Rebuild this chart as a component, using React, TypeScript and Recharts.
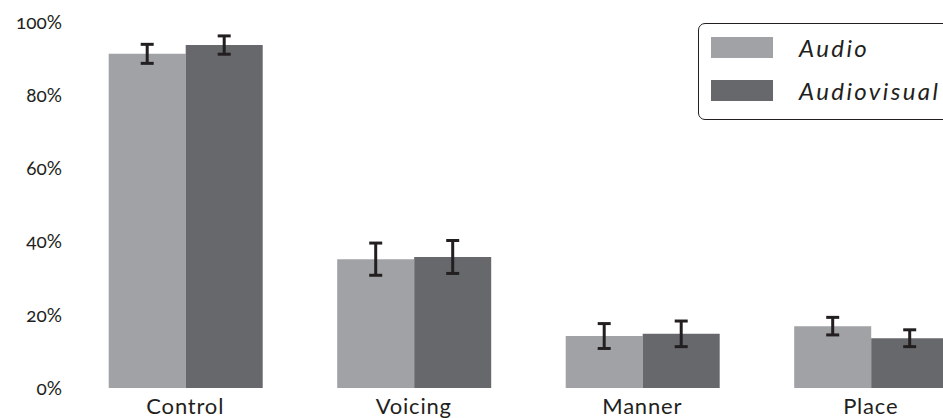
import { BarChart, Bar, XAxis, YAxis, ErrorBar, Legend } from "recharts";

// phoneme categories and identification rates (%)
const categories = ["Control", "Voicing", "Manner", "Place"];
const audioValues = [91.3, 35.2, 14.2, 16.9];
const audioErrors = [2.6, 4.4, 3.4, 2.4];
const audiovisualValues = [93.7, 35.8, 14.8, 13.6];
const audiovisualErrors = [2.5, 4.5, 3.5, 2.3];
const yTicks = [0, 20, 40, 60, 80, 100];

const AUDIO_COLOR = "#a1a2a6";
const AV_COLOR = "#67686c";
const INK = "#231f20";

const chartData = categories.map((name, i) => ({
  name,
  audio: audioValues[i],
  audioErr: audioErrors[i],
  audiovisual: audiovisualValues[i],
  audiovisualErr: audiovisualErrors[i],
}));

const LegendBox = ({ payload }: any) => (
  <div
    style={{
      width: 300,
      height: 97,
      border: `1.5px solid ${INK}`,
      borderRadius: 7,
      boxSizing: "border-box",
      position: "relative",
      background: "#fff",
    }}
  >
    {(payload || []).map((entry: any, i: number) => (
      <div
        key={entry.value}
        style={{
          position: "absolute",
          left: 12,
          top: 13 + i * 43,
          display: "flex",
          alignItems: "center",
          height: 21,
        }}
      >
        <div style={{ width: 62, height: 21, background: entry.color }} />
        <span
          style={{
            marginLeft: 26,
            fontStyle: "italic",
            fontSize: 24,
            letterSpacing: 2.4,
            color: INK,
            fontFamily: "Lato, 'Open Sans', sans-serif",
            whiteSpace: "nowrap",
          }}
        >
          {entry.value}
        </span>
      </div>
    ))}
  </div>
);

export default function App() {
  return (
    <div
      style={{
        position: "fixed",
        top: 0,
        left: 0,
        width: 943,
        height: 418,
        overflow: "hidden",
        background: "#fff",
        fontFamily: "Lato, sans-serif",
      }}
    >
      <BarChart
        width={1000}
        height={418}
        data={chartData}
        margin={{ top: 22, right: 15, left: 0, bottom: 0 }}
        barCategoryGap="16.5%"
        barGap={0}
      >
        <XAxis
          dataKey="name"
          axisLine={false}
          tickLine={false}
          tickSize={0}
          tickMargin={10}
          height={30}
          interval={0}
          tick={{ fill: INK, fontSize: 22, letterSpacing: 0.8 }}
        />
        <YAxis
          width={71}
          domain={[0, 100]}
          ticks={yTicks}
          axisLine={false}
          tickLine={false}
          tickSize={0}
          tickMargin={9}
          tickFormatter={(v) => `${v}%`}
          tick={{ fill: INK, fontSize: 19, style: { fontVariantNumeric: "oldstyle-nums" } }}
        />
        <Legend
          layout="horizontal"
          verticalAlign="middle"
          align="center"
          content={<LegendBox />}
          wrapperStyle={{ top: 23, left: 698, width: 300, height: 97 }}
        />
        <Bar dataKey="audio" name="Audio" fill={AUDIO_COLOR} isAnimationActive={false}>
          <ErrorBar dataKey="audioErr" width={6.5} strokeWidth={3} stroke={INK} />
        </Bar>
        <Bar dataKey="audiovisual" name="Audiovisual" fill={AV_COLOR} isAnimationActive={false}>
          <ErrorBar dataKey="audiovisualErr" width={6.5} strokeWidth={3} stroke={INK} />
        </Bar>
      </BarChart>
    </div>
  );
}
